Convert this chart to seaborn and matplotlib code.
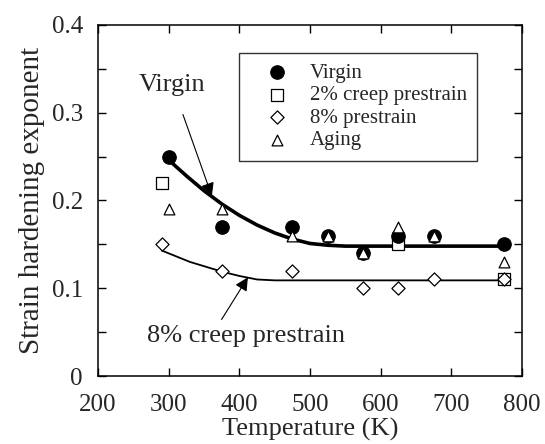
import matplotlib
matplotlib.use('Agg')
import matplotlib.pyplot as plt
import seaborn as sns

# measured points
temp_virgin = [300, 375, 475, 525, 575, 625, 675, 775]
n_virgin = [0.25, 0.17, 0.17, 0.16, 0.14, 0.16, 0.16, 0.15]

temp_creep2 = [290, 625, 775]
n_creep2 = [0.22, 0.15, 0.11]

temp_pre8 = [290, 375, 475, 575, 625, 675, 775]
n_pre8 = [0.15, 0.12, 0.12, 0.10, 0.10, 0.11, 0.11]

temp_aging = [300, 375, 475, 525, 575, 625, 675, 775]
n_aging = [0.19, 0.19, 0.16, 0.16, 0.14, 0.17, 0.16, 0.13]

# fitted curves
curva_virgin_t = [300, 325, 350, 375, 400, 425, 450, 475, 500, 525, 550, 775]
curva_virgin_n = [0.246, 0.228, 0.211, 0.196, 0.183, 0.172, 0.163, 0.156, 0.151, 0.149, 0.148, 0.148]

curva_creep8_t = [290, 330, 375, 400, 425, 450, 775]
curva_creep8_n = [0.143, 0.130, 0.119, 0.114, 0.110, 0.109, 0.109]

sns.set_theme(style='ticks')
plt.rcParams['font.family'] = ['Liberation Serif', 'DejaVu Serif']

fig, ax = plt.subplots(figsize=(5.45, 4.44), dpi=100)

sns.lineplot(x=curva_virgin_t, y=curva_virgin_n, ax=ax, color='black', lw=2.6, sort=False)
sns.lineplot(x=curva_creep8_t, y=curva_creep8_n, ax=ax, color='black', lw=1.3, sort=False)

sns.scatterplot(x=temp_creep2, y=n_creep2, ax=ax, marker='s', s=75, facecolor='white',
                edgecolor='black', linewidth=0.9, label='2% creep prestrain', zorder=3)
sns.scatterplot(x=temp_pre8, y=n_pre8, ax=ax, marker='D', s=45, facecolor='white',
                edgecolor='black', linewidth=0.9, label='8% prestrain', zorder=3)
sns.scatterplot(x=temp_virgin, y=n_virgin, ax=ax, marker='o', s=95, color='black',
                edgecolor='black', label='Virgin', zorder=4)
sns.scatterplot(x=temp_aging, y=n_aging, ax=ax, marker='^', s=60, facecolor='white',
                edgecolor='black', linewidth=0.9, label='Aging', zorder=5)

handles, labels = ax.get_legend_handles_labels()
orden = ['Virgin', '2% creep prestrain', '8% prestrain', 'Aging']
handles = [handles[labels.index(l)] for l in orden]
leg = ax.legend(handles, orden, loc='upper left', bbox_to_anchor=(0.3325, 0.9205),
                fontsize=15, frameon=True, fancybox=False, edgecolor='black',
                handletextpad=0.3, labelspacing=0.14, borderpad=0.5, handlelength=2.6,
                borderaxespad=0)
leg.get_frame().set_linewidth(1.0)

ax.annotate('Virgin', xy=(361, 0.205), xytext=(305, 0.332), fontsize=19,
            ha='center', va='center',
            arrowprops=dict(arrowstyle='-|>', color='black', lw=0.8,
                            mutation_scale=20, shrinkA=12, shrinkB=0))
ax.annotate('8% creep prestrain', xy=(412, 0.1125), xytext=(409, 0.0455), fontsize=19,
            ha='center', va='center',
            arrowprops=dict(arrowstyle='-|>', color='black', lw=0.8,
                            mutation_scale=20, shrinkA=2, shrinkB=0,
                            relpos=(0.36, 1.0)))

ax.set_xlim(200, 800)
ax.set_ylim(0, 0.4)
ax.set_xticks([200, 300, 400, 500, 600, 700, 800])
ax.set_yticks([0, 0.1, 0.2, 0.3, 0.4])
ax.set_yticklabels(['0', '0.1', '0.2', '0.3', '0.4'])
ax.set_yticks([0.05, 0.15, 0.25, 0.35], minor=True)
ax.tick_params(which='both', direction='in', top=True, right=True, labelsize=18,
               color='black', width=1, length=6)
ax.tick_params(axis='y', pad=11)
ax.tick_params(axis='x', pad=13)
for lado in ax.spines.values():
    lado.set_linewidth(1.1)
    lado.set_color('black')

ax.set_xlabel('Temperature (K)', fontsize=19, labelpad=1)
ax.set_ylabel('Strain hardening exponent', fontsize=21, labelpad=5)

plt.subplots_adjust(left=0.18, right=0.958, top=0.944, bottom=0.153)
plt.savefig('out.png', dpi=100)
